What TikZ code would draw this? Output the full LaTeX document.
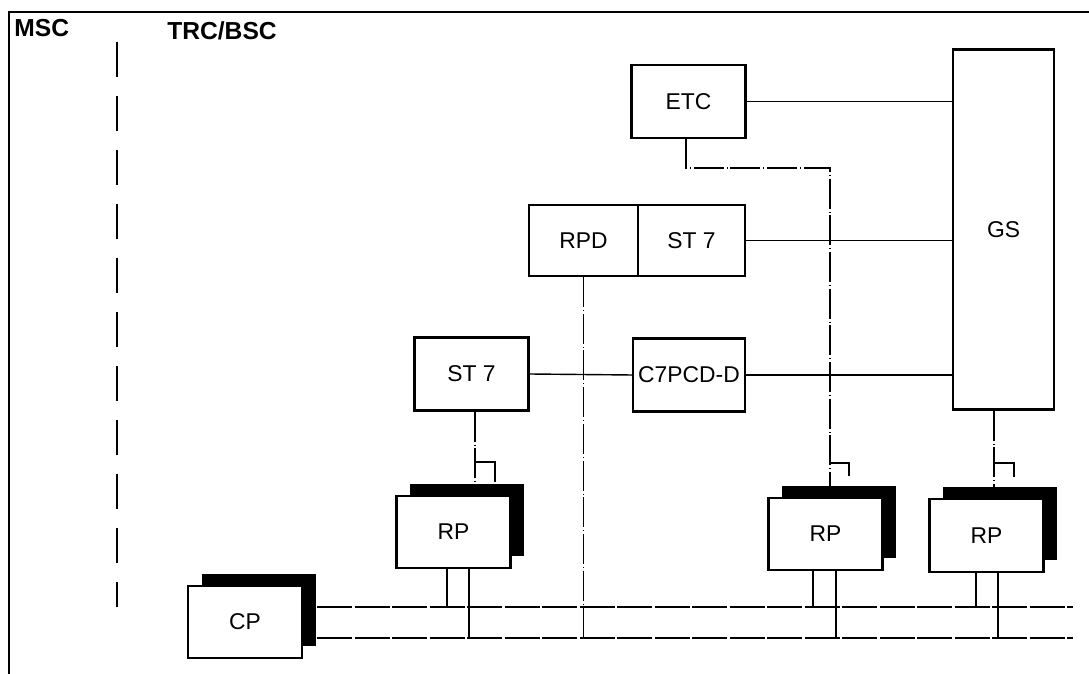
\documentclass[tikz,border=0pt]{standalone}
\usepackage{fontspec}
\setmainfont{Liberation Sans}
\usetikzlibrary{shadows}

\begin{document}
\begin{tikzpicture}[x=0.2mm,y=-0.2mm,unit/.style={rectangle,draw,line width=1.2pt,fill=white,minimum width=22.8mm,minimum height=14.6mm,inner sep=0pt,font=\fontsize{13}{15}\selectfont},stack/.style={general shadow={fill=black,shadow xshift=2.7mm,shadow yshift=2.4mm}},link/.style={line width=0.8pt},ctrl/.style={line width=0.8pt,dash pattern=on 6mm off 0.6mm on 0.4pt off 0.6mm},bus/.style={line width=0.9pt,dash pattern=on 7mm off 0.5mm},border/.style={line width=1.1pt},divide/.style={line width=1.6pt,dash pattern=on 7mm off 3.8mm},title/.style={anchor=west,inner sep=0pt,font=\fontsize{14}{16}\selectfont\bfseries}]
\useasboundingbox (0,0) rectangle (1089,674);
\coordinate (s1) at (117,42);
\coordinate (s2) at (117,607);
\coordinate (b1w) at (317,607);
\coordinate (b1e) at (1073,607);
\coordinate (b2w) at (317,638);
\coordinate (b2e) at (1073,638);
\coordinate (e1) at (686,168);
\coordinate (t1) at (475,485);
\coordinate (t2) at (830,486);
\coordinate (t3) at (994,487);
\coordinate (k1) at (475,462);
\coordinate (k2) at (830,463);
\coordinate (k3) at (994,463);
\coordinate (p1a) at (447,607);
\coordinate (p1b) at (469,638);
\coordinate (p2a) at (813,607);
\coordinate (p2b) at (836,638);
\coordinate (p3a) at (976,607);
\coordinate (p3b) at (998,638);
\draw[border] (9,674) -- (9,12) -- (1089,12);
\node[title] (msc) at (14,28) {MSC};
\node[title] (trc) at (167,31) {TRC/BSC};
\draw[divide] (s1) -- (s2);
\node[unit] (etc) at (688.5,101.5) {ETC};
\node[unit,minimum width=20.2mm,minimum height=72mm] (gs) at (1003.5,229.5) {GS};
\node[unit,minimum width=21.8mm,minimum height=14.2mm] (rpd) at (583.5,240.5) {RPD};
\node[unit,minimum width=21.4mm,minimum height=14.2mm] (st7a) at (691.5,240.5) {ST 7};
\node[unit] (st7b) at (471.5,374) {ST 7};
\node[unit,minimum width=22.4mm] (c7) at (689,375) {C7PCD-D};
\draw[link] (etc.east) -- (etc.east -| gs.west);
\draw[link] (st7a.east) -- (st7a.east -| gs.west);
\draw[link] (st7b.east) -- (c7.west);
\draw[link] (c7.east) -- (c7.east -| gs.west);
\draw[bus] (b1w) -- (b1e);
\draw[bus] (b2w) -- (b2e);
\draw[ctrl] (rpd.south) -- (rpd.south |- b2w);
\draw[ctrl] (e1 |- etc.south) -- (e1) -- (e1 -| t2) -- (t2);
\draw[ctrl] (t1 |- st7b.south) -- (t1);
\draw[ctrl] (t3 |- gs.south) -- (t3);
\draw[link] (k1) -| ++(20,20);
\draw[link] (k2) -| ++(19,13);
\draw[link] (k3) -| ++(20,14);
\node[unit,stack,minimum height=14.4mm] (rp1) at (453.5,532) {RP};
\node[unit,stack,minimum height=14.4mm] (rp2) at (825.5,534) {RP};
\node[unit,stack] (rp3) at (986.5,535.5) {RP};
\node[unit,stack,minimum height=14.4mm] (cp) at (245,622) {CP};
\draw[link] (p1a |- rp1.south) -- (p1a);
\draw[link] (p1b |- rp1.south) -- (p1b |- b1w);
\draw[ctrl] (p1b |- b1w) -- (p1b);
\draw[link] (p2a |- rp2.south) -- (p2a);
\draw[link] (p2b |- rp2.south) -- (p2b |- b1w);
\draw[ctrl] (p2b |- b1w) -- (p2b);
\draw[link] (p3a |- rp3.south) -- (p3a);
\draw[link] (p3b |- rp3.south) -- (p3b |- b1w);
\draw[ctrl] (p3b |- b1w) -- (p3b);
\end{tikzpicture}
\end{document}
